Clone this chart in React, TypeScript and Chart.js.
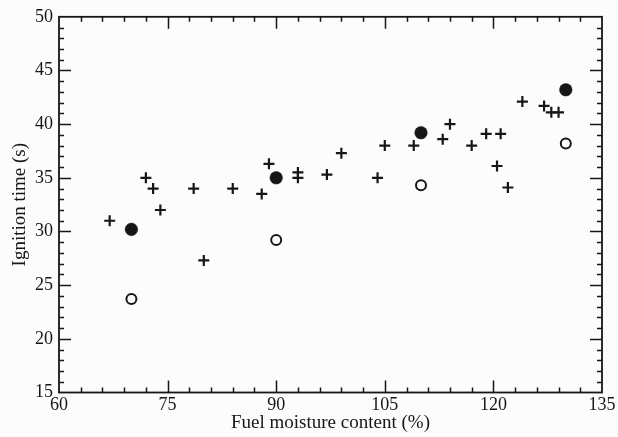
import React, { useEffect, useRef } from "react";
import { Chart, registerables } from "chart.js";

Chart.register(...registerables);

// Series: measured ignition times (crosses)
const crossX = [67, 72, 73, 74, 78.6, 80, 84, 88, 89, 93, 93, 97, 99, 104, 105, 109, 113, 114, 117, 119, 121, 120.5, 122, 124, 127, 128, 129];
const crossY = [31, 35, 34, 32, 34, 27.3, 34, 33.5, 36.3, 35.5, 35.0, 35.3, 37.3, 35, 38, 38, 38.6, 40, 38, 39.1, 39.1, 36.1, 34.1, 42.1, 41.7, 41.1, 41.1];

// Filled circles
const filledX = [70, 90, 110, 130];
const filledY = [30.2, 35.0, 39.2, 43.2];

// Open circles
const openX = [70, 90, 110, 130];
const openY = [23.7, 29.2, 34.3, 38.2];

// Axes
const xMin = 60, xMax = 135, xMajor = 15, xMinor = 3;
const yMin = 15, yMax = 50, yMajor = 5, yMinor = 1;
const xTitle = "Fuel moisture content (%)";
const yTitle = "Ignition time (s)";

const FONT = "'Liberation Serif', 'Times New Roman', serif";
const INK = "#161616";

const toPts = (xs: number[], ys: number[]) => xs.map((x, i) => ({ x, y: ys[i] }));

const framePlugin = {
  id: "frameTicks",
  beforeDraw(chart: any) {
    const { ctx, width, height } = chart;
    ctx.save();
    ctx.fillStyle = "#fcfcfc";
    ctx.fillRect(0, 0, width, height);
    ctx.restore();
  },
  afterDatasetsDraw(chart: any) {
    const { ctx, chartArea } = chart;
    const { left, right, top, bottom } = chartArea;
    const xs = chart.scales.x;
    const ys = chart.scales.y;
    ctx.save();
    ctx.strokeStyle = INK;
    ctx.lineWidth = 1.8;
    ctx.strokeRect(left, top, right - left, bottom - top);
    ctx.lineWidth = 1.5;
    ctx.beginPath();
    for (let v = xMin + xMinor; v < xMax - 1e-9; v += xMinor) {
      const isMajor = Math.abs(v / xMajor - Math.round(v / xMajor)) < 1e-6;
      const len = isMajor ? 12 : 5;
      const px = Math.round(xs.getPixelForValue(v)) + 0.5;
      ctx.moveTo(px, bottom);
      ctx.lineTo(px, bottom - len);
      ctx.moveTo(px, top);
      ctx.lineTo(px, top + len);
    }
    for (let v = yMin + yMinor; v < yMax - 1e-9; v += yMinor) {
      const isMajor = Math.abs(v / yMajor - Math.round(v / yMajor)) < 1e-6;
      const len = isMajor ? 12 : 5;
      const py = Math.round(ys.getPixelForValue(v)) + 0.5;
      ctx.moveTo(left, py);
      ctx.lineTo(left + len, py);
      ctx.moveTo(right, py);
      ctx.lineTo(right - len, py);
    }
    ctx.stroke();
    ctx.restore();
  },
};

export default function App() {
  const ref = useRef<HTMLCanvasElement | null>(null);
  useEffect(() => {
    if (!ref.current) return;
    const chart = new Chart(ref.current, {
      type: "scatter",
      data: {
        datasets: [
          {
            label: "Measured",
            data: toPts(crossX, crossY),
            pointStyle: "cross",
            pointRadius: 5.5,
            pointBorderWidth: 2.2,
            borderColor: INK,
            backgroundColor: INK,
          },
          {
            label: "Filled",
            data: toPts(filledX, filledY),
            pointStyle: "circle",
            pointRadius: 6.3,
            pointBorderWidth: 0.5,
            borderColor: INK,
            backgroundColor: INK,
          },
          {
            label: "Open",
            data: toPts(openX, openY),
            pointStyle: "circle",
            pointRadius: 5,
            pointBorderWidth: 2,
            borderColor: INK,
            backgroundColor: "rgba(0,0,0,0)",
          },
        ],
      },
      options: {
        responsive: false,
        animation: false,
        layout: { padding: { top: 15, right: 16, left: 0, bottom: 0 } },
        plugins: { legend: { display: false }, tooltip: { enabled: false } },
        scales: {
          x: {
            type: "linear",
            min: xMin,
            max: xMax,
            grid: { display: false, drawTicks: false },
            border: { display: false },
            ticks: {
              stepSize: xMajor,
              color: INK,
              padding: 2,
              maxRotation: 0,
              font: { family: FONT, size: 18 },
            },
            title: {
              display: true,
              text: xTitle,
              color: INK,
              font: { family: FONT, size: 19 },
              padding: { top: 0, bottom: 2.5 },
            },
            afterFit: (s: any) => {
              s.height = 44.5;
            },
          },
          y: {
            type: "linear",
            min: yMin,
            max: yMax,
            grid: { display: false, drawTicks: false },
            border: { display: false },
            ticks: {
              stepSize: yMajor,
              color: INK,
              padding: 6,
              font: { family: FONT, size: 18 },
            },
            title: {
              display: true,
              text: yTitle,
              color: INK,
              font: { family: FONT, size: 19 },
              padding: { top: 8.5, bottom: 0 },
            },
            afterFit: (s: any) => {
              s.width = 59;
            },
          },
        },
      },
      plugins: [framePlugin],
    } as any);
    return () => chart.destroy();
  }, []);
  return (
    <div style={{ position: "fixed", left: 0, top: 0, width: 618, height: 437 }}>
      <canvas ref={ref} width={618} height={437} style={{ display: "block" }} />
    </div>
  );
}
